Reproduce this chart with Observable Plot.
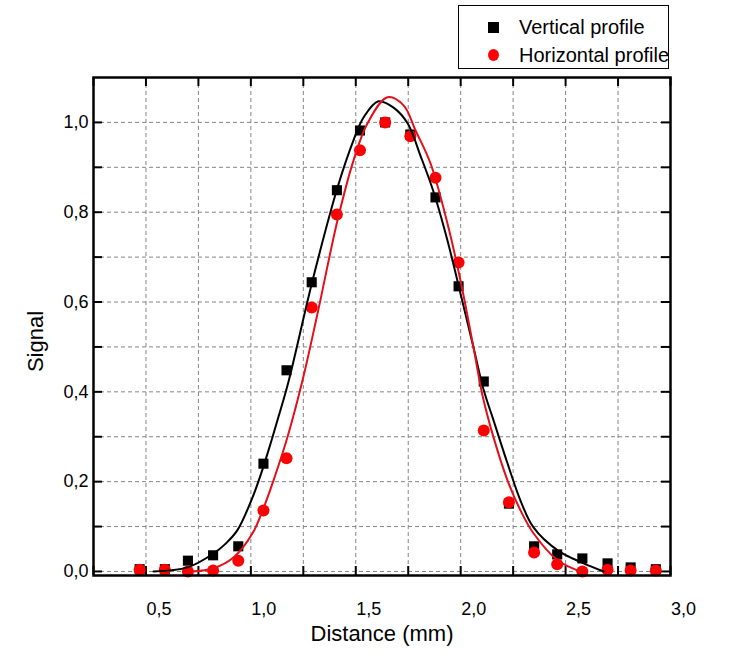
<!DOCTYPE html>
<html>
<head>
<meta charset="utf-8">
<script src="https://cdn.jsdelivr.net/npm/d3@7"></script>
<script src="https://cdn.jsdelivr.net/npm/@observablehq/plot@0.6"></script>
<style>
  body { margin: 0; background: white; }
  #wrap { position: relative; width: 735px; height: 661px; font-family: "Liberation Sans", Arial, sans-serif; }
  #legend { position: absolute; left: 458px; top: 5px; width: 209px; height: 62px; border: 1.5px solid black; background: white; }
  #legend .t { position: absolute; left: 60px; font-size: 20px; line-height: 24px; color: black; white-space: nowrap; }
  #legend .sq { position: absolute; left: 29px; top: 16px; width: 11px; height: 11px; background: black; }
  #legend .ci { position: absolute; left: 29px; top: 43px; width: 11px; height: 12px; border-radius: 50%; background: #ff0000; }
</style>
</head>
<body>
<div id="wrap">
  <div id="chart"></div>
  <div id="legend">
    <div class="sq"></div><div class="t" style="top:9px">Vertical profile</div>
    <div class="ci"></div><div class="t" style="top:37px">Horizontal profile</div>
  </div>
</div>
<script>
// measured positions (mm)
const distance = [0.47, 0.59, 0.70, 0.82, 0.94, 1.06, 1.17, 1.29, 1.41, 1.52, 1.64, 1.76, 1.88, 1.99, 2.11, 2.23, 2.35, 2.46, 2.58, 2.70, 2.81, 2.93];
const verticalSignal = [0.005, 0.005, 0.024, 0.036, 0.056, 0.240, 0.448, 0.644, 0.849, 0.982, 1.000, 0.973, 0.833, 0.635, 0.423, 0.151, 0.056, 0.038, 0.029, 0.018, 0.009, 0.005];
const horizontalSignal = [0.004, 0.004, 0.000, 0.002, 0.024, 0.136, 0.252, 0.588, 0.795, 0.938, 1.000, 0.969, 0.877, 0.688, 0.314, 0.154, 0.042, 0.016, 0.000, 0.004, 0.002, 0.002];

// fitted curves
const vFitX = [0.536, 0.698, 0.822, 0.880, 0.936, 1.008, 1.056, 1.094, 1.132, 1.179, 1.294, 1.413, 1.489, 1.537, 1.608, 1.680, 1.747, 1.809, 1.871, 1.937, 1.999, 2.061, 2.109, 2.157, 2.223, 2.285, 2.347, 2.462, 2.586, 2.681];
const vFitY = [0.000, 0.009, 0.040, 0.062, 0.092, 0.165, 0.228, 0.285, 0.345, 0.422, 0.648, 0.855, 0.960, 1.011, 1.047, 1.033, 0.998, 0.925, 0.845, 0.737, 0.619, 0.499, 0.405, 0.336, 0.241, 0.158, 0.098, 0.047, 0.018, 0.000];
const hFitX = [0.722, 0.822, 0.917, 1.008, 1.056, 1.108, 1.175, 1.246, 1.318, 1.413, 1.489, 1.556, 1.651, 1.728, 1.785, 1.856, 1.937, 1.999, 2.061, 2.104, 2.157, 2.223, 2.285, 2.347, 2.462, 2.571];
const hFitY = [0.000, 0.007, 0.031, 0.085, 0.136, 0.203, 0.300, 0.425, 0.575, 0.782, 0.915, 0.998, 1.056, 1.038, 0.982, 0.909, 0.775, 0.648, 0.499, 0.392, 0.298, 0.203, 0.136, 0.085, 0.025, 0.000];

// ticks
const xTicks = [0.25, 0.5, 0.75, 1.0, 1.25, 1.5, 1.75, 2.0, 2.25, 2.5, 2.75, 3.0];
const xLabels = [0.5, 1.0, 1.5, 2.0, 2.5, 3.0];
const yTicks = [0.0, 0.1, 0.2, 0.3, 0.4, 0.5, 0.6, 0.7, 0.8, 0.9, 1.0];
const yLabels = [0.0, 0.2, 0.4, 0.6, 0.8, 1.0];

const fmt = d => d.toFixed(1).replace(".", ",");
const vPts = distance.map((x, i) => ({x, y: verticalSignal[i]}));
const hPts = distance.map((x, i) => ({x, y: horizontalSignal[i]}));
const vFit = vFitX.map((x, i) => ({x, y: vFitY[i]}));
const hFit = hFitX.map((x, i) => ({x, y: hFitY[i]}));

const W = 735, H = 661, ML = 93, MR = 65, MT = 77, MB = 86;
const frameW = W - ML - MR, frameH = H - MT - MB, TICK = 9;
const gridStyle = {stroke: "#858585", strokeOpacity: 1, strokeWidth: 1, strokeDasharray: "4,3"};
const tk = {stroke: "black", strokeWidth: 2};

const chart = Plot.plot({
  width: W,
  height: H,
  marginLeft: ML,
  marginRight: MR,
  marginTop: MT,
  marginBottom: MB,
  x: {domain: [0.25, 3.0], axis: null},
  y: {domain: [-0.009, 1.1], axis: null},
  style: {fontFamily: "Liberation Sans, Arial, sans-serif", fontSize: "18px", color: "black", background: "white", overflow: "visible"},
  marks: [
    Plot.gridX({ticks: xTicks, ...gridStyle}),
    Plot.gridY({ticks: yTicks, ...gridStyle}),
    // inward ticks on all four sides
    Plot.tickX(xTicks, {x: d => d, insetTop: frameH - TICK, ...tk}),
    Plot.tickX(xTicks, {x: d => d, insetBottom: frameH - TICK, ...tk}),
    Plot.tickY(yTicks, {y: d => d, insetRight: frameW - TICK, ...tk}),
    Plot.tickY(yTicks, {y: d => d, insetLeft: frameW - TICK, ...tk}),
    Plot.axisX({anchor: "bottom", ticks: xLabels, tickSize: 0, tickPadding: 27, dx: 13, tickFormat: fmt, fontSize: 18, label: null}),
    Plot.axisY({anchor: "left", ticks: yLabels, tickSize: 0, tickPadding: 5, tickFormat: fmt, fontSize: 18, label: null}),
    Plot.dot(vPts, {x: "x", y: "y", symbol: "square", r: 5.7, fill: "black", stroke: "none"}),
    Plot.dot(hPts, {x: "x", y: "y", symbol: "circle", r: 6, fill: "#ff0000", stroke: "none"}),
    Plot.line(vFit, {x: "x", y: "y", stroke: "black", strokeWidth: 2, curve: "catmull-rom", clip: true}),
    Plot.line(hFit, {x: "x", y: "y", stroke: "#e3101a", strokeWidth: 2, curve: "catmull-rom", clip: true}),
    Plot.frame({stroke: "black", strokeWidth: 2.5}),
    Plot.text(["Signal"], {text: d => d, frameAnchor: "left", textAnchor: "middle", lineAnchor: "middle", dx: -58, dy: 15, rotate: -90, fontSize: 22, fill: "black"}),
    Plot.text(["Distance (mm)"], {text: d => d, frameAnchor: "bottom", textAnchor: "middle", lineAnchor: "middle", dy: 58, fontSize: 22, fill: "black"})
  ]
});
document.getElementById("chart").appendChild(chart);
</script>
</body>
</html>
